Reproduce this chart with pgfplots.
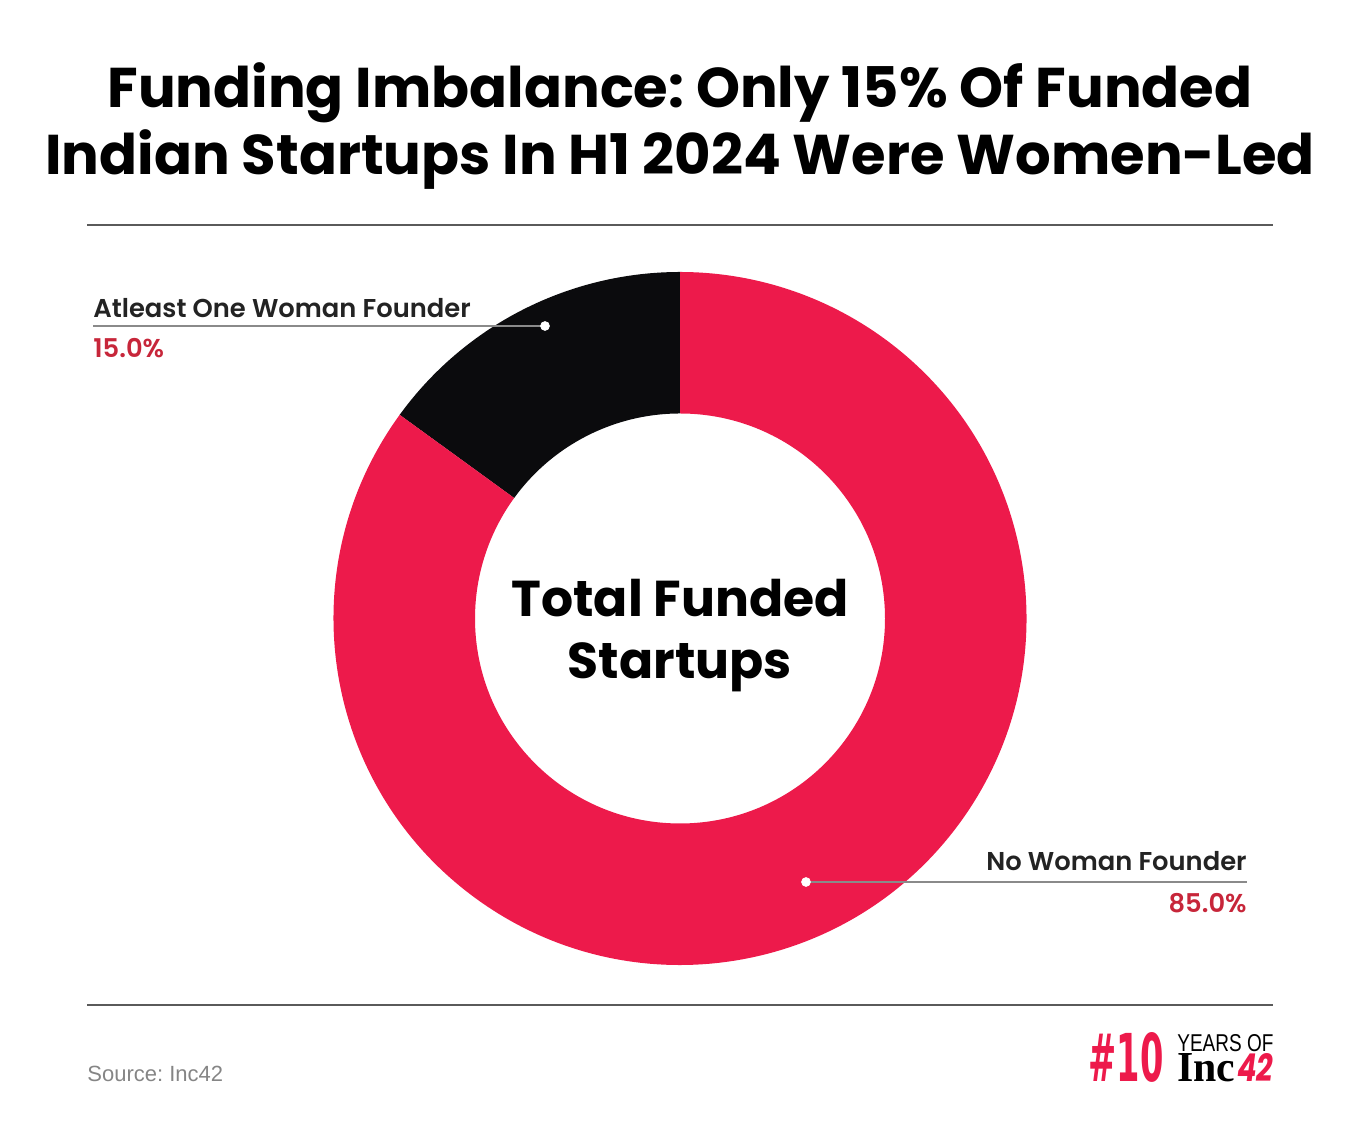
\documentclass[border=0pt]{standalone}
\usepackage{fontspec}
\usepackage{graphicx}
\usepackage{pgfplots}
\usepackage{pgfplotstable}
\pgfplotsset{compat=1.18}
\setmainfont{Poppins}
\newfontfamily\popsemi{Poppins SemiBold}
\newfontfamily\libsans{Liberation Sans}
\newfontfamily\libserif{Liberation Serif}
\newfontfamily\dvc{DejaVu Sans Condensed}
\definecolor{donutred}{HTML}{ED1A4B}
\definecolor{donutblack}{HTML}{0B0B0D}
\definecolor{pctred}{HTML}{C7263A}
\definecolor{labeltxt}{HTML}{232323}
\definecolor{rulegray}{HTML}{5A5A5A}
\definecolor{leadgray}{HTML}{8A8A8A}
\definecolor{srcgray}{HTML}{858585}
\frenchspacing
\pgfplotstableread[col sep=comma]{
label,value
Atleast One Woman Founder,15.0
No Woman Founder,85.0
}\shares
\pgfplotstablegetelem{0}{value}\of\shares \let\vA\pgfplotsretval
\pgfplotstablegetelem{1}{value}\of\shares \let\vB\pgfplotsretval
\pgfmathsetmacro\angA{90+3.6*\vA}
\pgfmathsetmacro\angB{\angA+3.6*\vB}
\begin{document}
\begin{tikzpicture}
\begin{axis}[
  x=0.5pt, y=0.5pt,
  xmin=0, xmax=1360, ymin=0, ymax=1128,
  hide axis, clip=false,
]
\path (axis cs:0,0) rectangle (axis cs:1360,1128);
\coordinate (C) at (axis cs:680,509.5);
% donut slices
\fill[donutblack] ([shift={(90:173.25pt)}]C) arc[start angle=90, end angle=\angA, radius=173.25pt]
  -- ([shift={(\angA:102.5pt)}]C) arc[start angle=\angA, end angle=90, radius=102.5pt] -- cycle;
\fill[donutred] ([shift={(\angA:173.25pt)}]C) arc[start angle=\angA, end angle=\angB, radius=173.25pt]
  -- ([shift={(\angB:102.5pt)}]C) arc[start angle=\angB, end angle=\angA, radius=102.5pt] -- cycle;
% rules
\addplot[rulegray, line width=0.6pt] coordinates {(87,903) (1273,903)};
\addplot[rulegray, line width=0.6pt] coordinates {(87,123) (1273,123)};
% leader lines
\addplot[leadgray, line width=0.6pt] coordinates {(93,802) (545,802)};
\addplot[leadgray, line width=0.6pt] coordinates {(806,246) (1247,246)};
\addplot[only marks, mark=*, white, mark size=2.2pt] coordinates {(545,802) (806,246)};
% title
\node[anchor=base, inner sep=0] at (axis cs:680,1020) {\fontsize{28}{30}\selectfont\bfseries Funding Imbalance: Only 15\% Of Funded};
\node[anchor=base, inner sep=0] at (axis cs:680,953) {\fontsize{28}{30}\selectfont\bfseries Indian Startups In H1 2024 Were Women-Led};
% center
\node[anchor=base, inner sep=0] at (axis cs:680,511) {\fontsize{25.2}{30}\selectfont\bfseries Total Funded};
\node[anchor=base, inner sep=0] at (axis cs:680,449) {\fontsize{25.2}{30}\selectfont\bfseries Startups};
% labels
\node[anchor=base west, inner sep=0, text=labeltxt] at (axis cs:93,810) {\fontsize{12.9}{14}\selectfont\popsemi Atleast One Woman Founder};
\node[anchor=base west, inner sep=0, text=pctred] at (axis cs:93,770) {\fontsize{12.9}{14}\selectfont\popsemi 15.0\%};
\node[anchor=base east, inner sep=0, text=labeltxt] at (axis cs:1247,257) {\fontsize{12.9}{14}\selectfont\popsemi No Woman Founder};
\node[anchor=base east, inner sep=0, text=pctred] at (axis cs:1247,215) {\fontsize{12.9}{14}\selectfont\popsemi 85.0\%};
% source
\node[anchor=base west, inner sep=0, text=srcgray] at (axis cs:87,46) {\fontsize{11}{12}\selectfont\libsans Source: Inc42};
% logo
\node[anchor=base west, inner sep=0, text=donutred] at (axis cs:1088,46) {\resizebox{37.5pt}{24.5pt}{\dvc\bfseries\#10}};
\node[anchor=base west, inner sep=0, text=black] at (axis cs:1177,46) {\rlap{\raisebox{15pt}{\resizebox{48pt}{8.5pt}{\libsans YEARS OF}}}\resizebox{29pt}{14pt}{\libserif\bfseries Inc}\hspace{1pt}\textcolor{donutred}{\resizebox{18pt}{14pt}{\bfseries\itshape 42}}};
\end{axis}
\end{tikzpicture}
\end{document}
